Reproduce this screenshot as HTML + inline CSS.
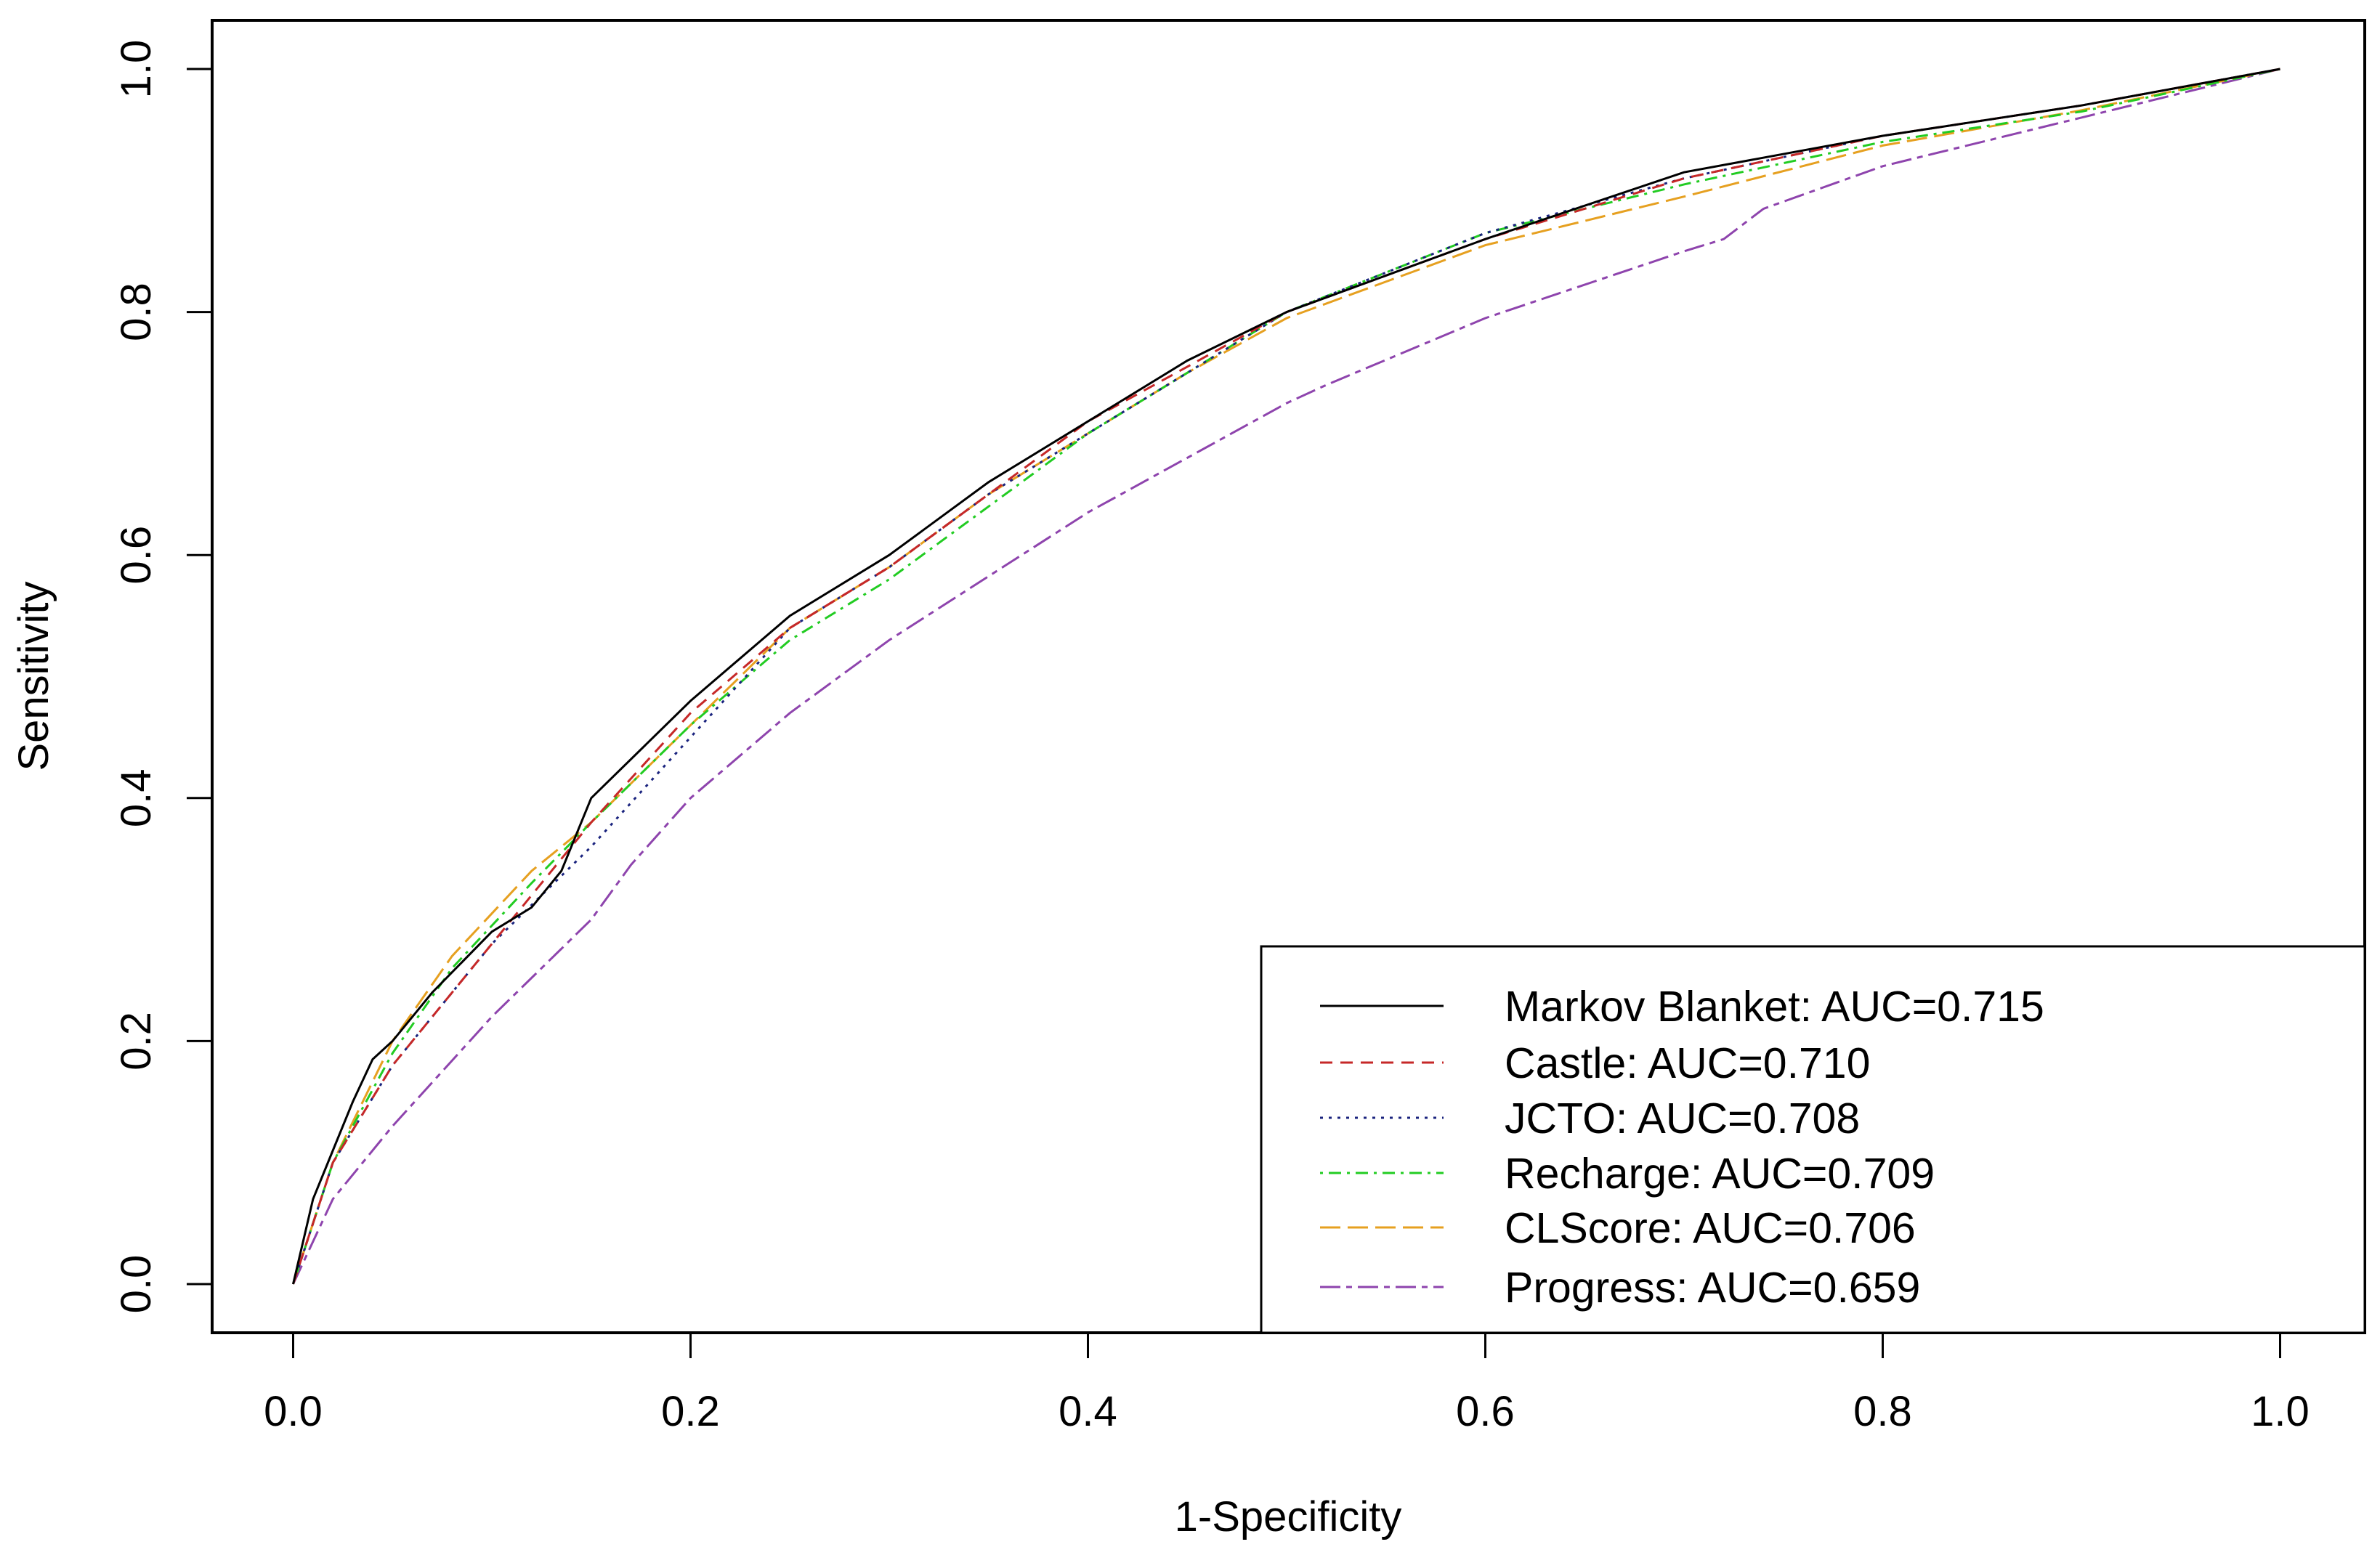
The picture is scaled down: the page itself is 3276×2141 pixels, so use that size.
<!DOCTYPE html>
<html><head><meta charset="utf-8"><style>
html,body{margin:0;padding:0;background:#fff;}
svg{display:block;}
text{font-family:"Liberation Sans",Arial,sans-serif;fill:#000;}
</style></head><body>
<svg id="s" width="3276" height="2141" viewBox="0 0 3276 2141" xmlns="http://www.w3.org/2000/svg">
<rect x="0" y="0" width="3276" height="2141" fill="#fff"/>
<g id="curves" fill="none" stroke-width="3"></g>
<rect x="292" y="28" width="2963" height="1807" fill="none" stroke="#000" stroke-width="4"/>
<g stroke="#000" stroke-width="3">
<line x1="403.5" y1="1835" x2="403.5" y2="1870"/>
<line x1="950.5" y1="1835" x2="950.5" y2="1870"/>
<line x1="1497.5" y1="1835" x2="1497.5" y2="1870"/>
<line x1="2044.5" y1="1835" x2="2044.5" y2="1870"/>
<line x1="2591.5" y1="1835" x2="2591.5" y2="1870"/>
<line x1="3138.5" y1="1835" x2="3138.5" y2="1870"/>
<line x1="257" y1="1768" x2="292" y2="1768"/>
<line x1="257" y1="1433.4" x2="292" y2="1433.4"/>
<line x1="257" y1="1098.8" x2="292" y2="1098.8"/>
<line x1="257" y1="764.2" x2="292" y2="764.2"/>
<line x1="257" y1="429.6" x2="292" y2="429.6"/>
<line x1="257" y1="95" x2="292" y2="95"/>
</g>
<g font-size="58" text-anchor="middle">
<text x="403.5" y="1963">0.0</text>
<text x="950.5" y="1963">0.2</text>
<text x="1497.5" y="1963">0.4</text>
<text x="2044.5" y="1963">0.6</text>
<text x="2591.5" y="1963">0.8</text>
<text x="3138.5" y="1963">1.0</text>
<text transform="translate(207,1768) rotate(-90)">0.0</text>
<text transform="translate(207,1433.4) rotate(-90)">0.2</text>
<text transform="translate(207,1098.8) rotate(-90)">0.4</text>
<text transform="translate(207,764.2) rotate(-90)">0.6</text>
<text transform="translate(207,429.6) rotate(-90)">0.8</text>
<text transform="translate(207,95) rotate(-90)">1.0</text>
<text x="1773" y="2108">1-Specificity</text>
<text transform="translate(66,931) rotate(-90)">Sensitivity</text>
</g>
<rect x="1736" y="1303" width="1519" height="532" fill="#fff" stroke="#000" stroke-width="3"/>
<g stroke-width="3">
<line x1="1817" y1="1385" x2="1987" y2="1385" stroke="#000"/>
<line x1="1817" y1="1463" x2="1987" y2="1463" stroke="#c62828" stroke-dasharray="17,11"/>
<line x1="1817" y1="1539" x2="1987" y2="1539" stroke="#1a237e" stroke-dasharray="4,8"/>
<line x1="1817" y1="1615" x2="1987" y2="1615" stroke="#22cc22" stroke-dasharray="4,8,17,8"/>
<line x1="1817" y1="1690" x2="1987" y2="1690" stroke="#e6a020" stroke-dasharray="28,10"/>
<line x1="1817" y1="1772" x2="1987" y2="1772" stroke="#8e44ad" stroke-dasharray="28,8,8,8"/>
</g>
<g font-size="59">
<text x="2071" y="1406">Markov Blanket: AUC=0.715</text>
<text x="2071" y="1484">Castle: AUC=0.710</text>
<text x="2071" y="1560">JCTO: AUC=0.708</text>
<text x="2071" y="1636">Recharge: AUC=0.709</text>
<text x="2071" y="1711">CLScore: AUC=0.706</text>
<text x="2071" y="1793">Progress: AUC=0.659</text>
</g>
</svg>
<script>
(function(){
function X(x){return 403.5+2735*x;} function Y(y){return 1768-1673*y;}
var mb=[[0,0],[0.01,0.07],[0.02,0.11],[0.03,0.15],[0.04,0.185],[0.05,0.2],[0.07,0.24],[0.1,0.29],[0.12,0.31],[0.135,0.34],[0.15,0.40],[0.2,0.48],[0.25,0.55],[0.3,0.60],[0.35,0.66],[0.4,0.71],[0.45,0.76],[0.5,0.80],[0.6,0.86],[0.7,0.915],[0.8,0.945],[0.9,0.97],[1,1]];
var ca=[[0,0],[0.02,0.1],[0.05,0.18],[0.1,0.28],[0.15,0.38],[0.2,0.47],[0.25,0.54],[0.3,0.59],[0.35,0.65],[0.4,0.71],[0.45,0.755],[0.5,0.80],[0.6,0.86],[0.7,0.91],[0.8,0.945],[0.9,0.97],[1,1]];
var jc=[[0,0],[0.02,0.1],[0.05,0.18],[0.1,0.28],[0.15,0.36],[0.2,0.45],[0.25,0.54],[0.3,0.59],[0.35,0.65],[0.4,0.70],[0.45,0.75],[0.5,0.80],[0.6,0.865],[0.7,0.91],[0.8,0.945],[0.9,0.97],[1,1]];
var re=[[0,0],[0.02,0.1],[0.05,0.19],[0.08,0.26],[0.12,0.33],[0.15,0.38],[0.2,0.46],[0.25,0.53],[0.3,0.58],[0.35,0.64],[0.4,0.70],[0.45,0.75],[0.5,0.80],[0.6,0.865],[0.7,0.905],[0.8,0.94],[0.9,0.965],[1,1]];
var cl=[[0,0],[0.02,0.1],[0.05,0.2],[0.08,0.27],[0.12,0.34],[0.15,0.38],[0.2,0.46],[0.25,0.54],[0.3,0.59],[0.35,0.65],[0.4,0.70],[0.45,0.75],[0.5,0.795],[0.6,0.855],[0.7,0.895],[0.8,0.937],[0.9,0.966],[1,1]];
var pr=[[0,0],[0.02,0.07],[0.05,0.13],[0.1,0.22],[0.15,0.30],[0.17,0.345],[0.2,0.40],[0.25,0.47],[0.3,0.53],[0.4,0.635],[0.5,0.725],[0.52,0.74],[0.6,0.795],[0.7,0.85],[0.72,0.86],[0.74,0.885],[0.8,0.92],[0.9,0.96],[1,1]];
var S=[[pr,"#8e44ad","28,8,8,8"],[cl,"#e6a020","28,10"],[re,"#22cc22","4,8,17,8"],[jc,"#1a237e","4,8"],[ca,"#c62828","17,11"],[mb,"#000",""]];
var g=document.getElementById("curves"),h="";
S.forEach(function(s){var d=s[0].map(function(p,i){return (i?"L":"M")+X(p[0]).toFixed(1)+" "+Y(p[1]).toFixed(1);}).join(" ");
h+='<path d="'+d+'" stroke="'+s[1]+'"'+(s[2]?' stroke-dasharray="'+s[2]+'"':'')+'/>';});
g.innerHTML=h;
})();
</script>
</body></html>
